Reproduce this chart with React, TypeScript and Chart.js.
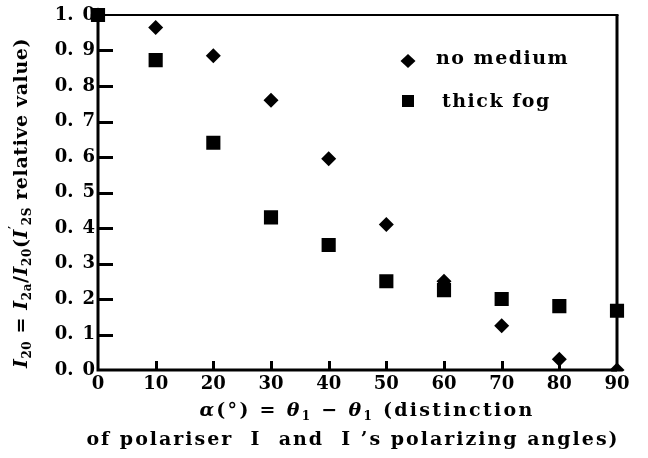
import React, { useEffect, useRef } from "react";
import { Chart, registerables } from "chart.js";
Chart.register(...registerables);

const angles = [0, 10, 20, 30, 40, 50, 60, 70, 80, 90];
const noMedium = [1.0, 0.965, 0.885, 0.76, 0.595, 0.41, 0.25, 0.125, 0.03, 0.0];
const thickFog = [1.0, 0.873, 0.64, 0.43, 0.352, 0.25, 0.225, 0.2, 0.18, 0.167];
const seriesNames = ["no medium", "thick fog"];
const xTickValues = [0, 10, 20, 30, 40, 50, 60, 70, 80, 90];
const yTickValues = [0, 0.1, 0.2, 0.3, 0.4, 0.5, 0.6, 0.7, 0.8, 0.9, 1.0];

type Seg = { t: string; it?: boolean; sub?: boolean; sup?: boolean };

const yTitle: Seg[] = [
  { t: "I", it: true }, { t: "20", sub: true }, { t: " = " },
  { t: "I", it: true }, { t: "2a", sub: true }, { t: "/" },
  { t: "I", it: true }, { t: "20", sub: true }, { t: "(" },
  { t: "I", it: true }, { t: "′", sup: true }, { t: "2S", sub: true },
  { t: " relative value)" },
];
const xTitle1: Seg[] = [
  { t: "α", it: true }, { t: "(°) = " }, { t: "θ", it: true }, { t: "1", sub: true },
  { t: " − " }, { t: "θ", it: true }, { t: "1", sub: true }, { t: " (distinction" },
];
const xTitle2: Seg[] = [{ t: "of polariser  I  and  I ’s polarizing angles)" }];

const FONT = '"DejaVu Serif", "Liberation Serif", serif';

function segFont(s: Seg, size: number) {
  const sz = s.sub || s.sup ? Math.round(size * 0.62) : size;
  return `${s.it ? "italic " : ""}bold ${sz}px ${FONT}`;
}

function drawSegs(ctx: CanvasRenderingContext2D, segs: Seg[], cx: number, cy: number, size: number, spacing: number) {
  (ctx as any).letterSpacing = `${spacing}px`;
  let total = 0;
  const widths = segs.map((s) => {
    ctx.font = segFont(s, size);
    const w = ctx.measureText(s.t).width;
    total += w;
    return w;
  });
  let x = cx - total / 2;
  ctx.textBaseline = "middle";
  ctx.textAlign = "left";
  segs.forEach((s, i) => {
    ctx.font = segFont(s, size);
    const dy = s.sub ? size * 0.32 : s.sup ? -size * 0.38 : 0;
    ctx.fillText(s.t, x, cy + dy);
    x += widths[i];
  });
  (ctx as any).letterSpacing = "0px";
}

const decorPlugin = {
  id: "decor",
  afterDraw(chart: any) {
    const ctx: CanvasRenderingContext2D = chart.ctx;
    const { left, right, top, bottom } = chart.chartArea;
    const xs = chart.scales.x;
    const ys = chart.scales.y;
    ctx.save();
    ctx.strokeStyle = "#000";
    ctx.fillStyle = "#000";
    // inside ticks
    for (const v of yTickValues) {
      if (v === 0 || v === 1) continue;
      const y = Math.round(ys.getPixelForValue(v));
      ctx.fillRect(left, y - 1, 15, 3);
    }
    for (const v of xTickValues) {
      if (v === 0 || v === 90) continue;
      const x = Math.round(xs.getPixelForValue(v));
      ctx.fillRect(x - 1, bottom - 9, 3, 9);
    }
    // frame
    ctx.lineWidth = 3;
    ctx.beginPath();
    ctx.moveTo(left, top);
    ctx.lineTo(left, bottom);
    ctx.lineTo(right, bottom);
    ctx.stroke();
    ctx.beginPath();
    ctx.moveTo(right, bottom);
    ctx.lineTo(right, top);
    ctx.stroke();
    ctx.lineWidth = 2;
    ctx.beginPath();
    ctx.moveTo(left - 1.5, top);
    ctx.lineTo(right + 1.5, top);
    ctx.stroke();
    // legend
    const lx = 408;
    const ly1 = 61;
    const ly2 = 101;
    ctx.beginPath();
    ctx.moveTo(lx, ly1 - 7);
    ctx.lineTo(lx + 7.5, ly1);
    ctx.lineTo(lx, ly1 + 7);
    ctx.lineTo(lx - 7.5, ly1);
    ctx.closePath();
    ctx.fill();
    ctx.fillRect(lx - 6, ly2 - 6, 12, 12);
    (ctx as any).letterSpacing = "1.5px";
    ctx.font = `bold 19px ${FONT}`;
    ctx.textBaseline = "middle";
    ctx.textAlign = "left";
    ctx.fillText(seriesNames[0], 436, ly1 - 2);
    ctx.fillText(seriesNames[1], 442, ly2 + 1);
    (ctx as any).letterSpacing = "0px";
    // y title
    ctx.save();
    ctx.translate(22, 203);
    ctx.rotate(-Math.PI / 2);
    drawSegs(ctx, yTitle, 0, 0, 19, 0.6);
    ctx.restore();
    // x title
    drawSegs(ctx, xTitle1, 367, 411, 19, 2.3);
    drawSegs(ctx, xTitle2, 353, 440, 19, 2);
    ctx.restore();
  },
};

export default function App() {
  const ref = useRef<HTMLCanvasElement>(null);
  useEffect(() => {
    const canvas = ref.current!;
    const clip = { left: false, top: false, right: false, bottom: 1.5 } as any;
    const chart = new Chart(canvas, {
      type: "scatter",
      data: {
        datasets: [
          {
            label: seriesNames[0],
            data: angles.map((a, i) => ({ x: a, y: noMedium[i] })),
            pointStyle: "rectRot",
            pointRadius: 7.5,
            backgroundColor: "#000",
            borderColor: "#000",
            borderWidth: 0,
            clip,
          },
          {
            label: seriesNames[1],
            data: angles.map((a, i) => ({ x: a, y: thickFog[i] })),
            pointStyle: "rect",
            pointRadius: 10,
            backgroundColor: "#000",
            borderColor: "#000",
            borderWidth: 0,
            clip,
          },
        ],
      },
      options: {
        animation: false,
        responsive: false,
        devicePixelRatio: 1,
        layout: { padding: { left: 0, top: 15, right: 31, bottom: 0 } },
        plugins: { legend: { display: false }, tooltip: { enabled: false } },
        scales: {
          x: {
            type: "linear",
            min: 0,
            max: 90,
            afterFit: (s: any) => { s.height = 88; },
            afterBuildTicks: (s: any) => { s.ticks = xTickValues.map((v) => ({ value: v })); },
            grid: { display: false, drawTicks: false },
            border: { display: false },
            ticks: {
              color: "#000",
              padding: 4,
              font: { family: FONT, size: 18, weight: "bold" },
              maxRotation: 0,
              callback: (v: any) => String(v),
            },
          },
          y: {
            type: "linear",
            min: 0,
            max: 1,
            afterFit: (s: any) => { s.width = 98; },
            afterBuildTicks: (s: any) => { s.ticks = yTickValues.map((v) => ({ value: v })); },
            grid: { display: false, drawTicks: false },
            border: { display: false },
            ticks: {
              color: "#000",
              padding: 3,
              font: { family: FONT, size: 18, weight: "bold" },
              callback: (v: any) => Number(v).toFixed(1).replace(".", ".\u2002"),
            },
          },
        },
      },
      plugins: [decorPlugin],
    } as any);
    return () => chart.destroy();
  }, []);
  return (
    <div style={{ position: "absolute", left: 0, top: 0, width: 648, height: 458, background: "#fff" }}>
      <canvas ref={ref} width={648} height={458} style={{ width: 648, height: 458 }} />
    </div>
  );
}
